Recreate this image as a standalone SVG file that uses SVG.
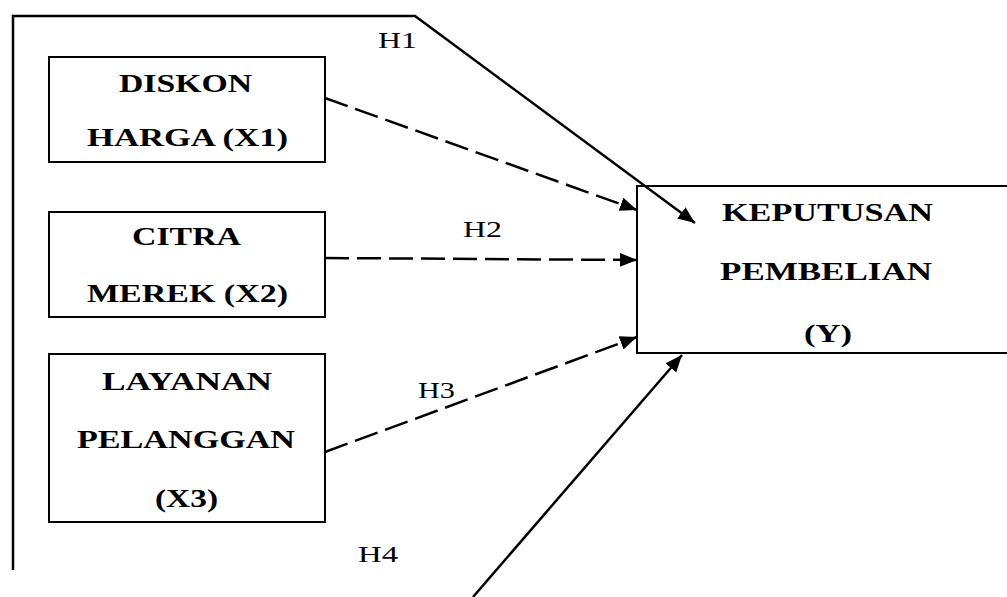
<svg xmlns="http://www.w3.org/2000/svg" width="1007" height="597" viewBox="0 0 1007 597">
  <defs>
    <marker id="arr" markerUnits="userSpaceOnUse" markerWidth="18" markerHeight="14" refX="17" refY="7" orient="auto">
      <path d="M0,0 L17,7 L0,14 Z" fill="#000"/>
    </marker>
    <style>
      .box { fill: #fff; stroke: #000; stroke-width: 2; }
      .lbl { font-family: "Liberation Serif", "Times New Roman", serif; font-weight: bold; font-size: 26px; fill: #000; }
      .h { font-family: "Liberation Serif", "Times New Roman", serif; font-size: 24px; fill: #000; }
      .solid { fill: none; stroke: #000; stroke-width: 2.5; marker-end: url(#arr); }
      .dash { fill: none; stroke: #000; stroke-width: 2.5; stroke-dasharray: 24 8; marker-end: url(#arr); }
    </style>
  </defs>
  <rect width="1007" height="597" fill="#fff"/>

  <g id="node-x1">
    <rect class="box" x="49" y="57" width="276" height="105"/>
    <text class="lbl" x="119" y="92" textLength="133" lengthAdjust="spacingAndGlyphs">DISKON</text>
    <text class="lbl" x="87" y="146" textLength="201" lengthAdjust="spacingAndGlyphs">HARGA (X1)</text>
  </g>
  <g id="node-x2">
    <rect class="box" x="49" y="212" width="276" height="105"/>
    <text class="lbl" x="132" y="245" textLength="109" lengthAdjust="spacingAndGlyphs">CITRA</text>
    <text class="lbl" x="87" y="302" textLength="201" lengthAdjust="spacingAndGlyphs">MEREK (X2)</text>
  </g>
  <g id="node-x3">
    <rect class="box" x="49" y="354" width="276" height="168"/>
    <text class="lbl" x="102" y="390" textLength="170" lengthAdjust="spacingAndGlyphs">LAYANAN</text>
    <text class="lbl" x="77" y="448" textLength="218" lengthAdjust="spacingAndGlyphs">PELANGGAN</text>
    <text class="lbl" x="155" y="507" textLength="63" lengthAdjust="spacingAndGlyphs">(X3)</text>
  </g>
  <g id="node-y">
    <rect class="box" x="637" y="186" width="380" height="167"/>
    <text class="lbl" x="722" y="221" textLength="211" lengthAdjust="spacingAndGlyphs">KEPUTUSAN</text>
    <text class="lbl" x="720" y="280" textLength="212" lengthAdjust="spacingAndGlyphs">PEMBELIAN</text>
    <text class="lbl" x="804" y="342" textLength="48" lengthAdjust="spacingAndGlyphs">(Y)</text>
  </g>

  <g id="connectors">
    <polyline class="solid" points="13,570 13,16 415,16 695,223"/>
    <line class="dash" x1="325" y1="98" x2="637" y2="210"/>
    <line class="dash" x1="325" y1="258" x2="637" y2="260"/>
    <line class="dash" x1="325" y1="452" x2="637" y2="337"/>
    <line class="solid" x1="473" y1="597" x2="682" y2="355"/>
  </g>

  <g id="labels">
    <text class="h" x="378" y="48" textLength="39" lengthAdjust="spacingAndGlyphs">H1</text>
    <text class="h" x="463" y="237" textLength="39" lengthAdjust="spacingAndGlyphs">H2</text>
    <text class="h" x="418" y="398" textLength="37" lengthAdjust="spacingAndGlyphs">H3</text>
    <text class="h" x="358" y="562" textLength="40" lengthAdjust="spacingAndGlyphs">H4</text>
  </g>
</svg>
